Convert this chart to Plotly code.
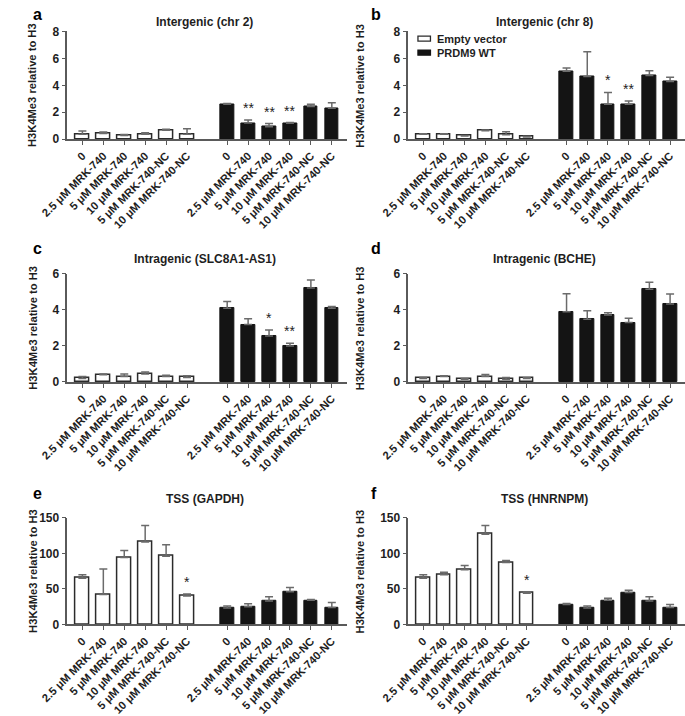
import plotly.graph_objects as go

W, H = 685, 716

conditions = ["0", "2.5 μM MRK-740", "5 μM MRK-740", "10 μM MRK-740",
              "5 μM MRK-740-NC", "10 μM MRK-740-NC"]
series_names = ["Empty vector", "PRDM9 WT"]

# ---- panel a: Intergenic (chr 2)
a_empty = [0.36, 0.42, 0.28, 0.36, 0.66, 0.36]
a_empty_err = [0.24, 0.12, 0.06, 0.12, 0.07, 0.41]
a_prdm9 = [2.6, 1.2, 0.92, 1.18, 2.42, 2.3]
a_prdm9_err = [0.05, 0.22, 0.24, 0.05, 0.17, 0.4]
a_sig_empty = ["", "", "", "", "", ""]
a_sig_prdm9 = ["", "**", "**", "**", "", ""]

# ---- panel b: Intergenic (chr 8)
b_empty = [0.36, 0.36, 0.24, 0.62, 0.33, 0.17]
b_empty_err = [0.04, 0.04, 0.04, 0.06, 0.22, 0.05]
b_prdm9 = [5.04, 4.65, 2.6, 2.6, 4.73, 4.29]
b_prdm9_err = [0.24, 1.85, 0.87, 0.24, 0.36, 0.31]
b_sig_empty = ["", "", "", "", "", ""]
b_sig_prdm9 = ["", "", "*", "**", "", ""]

# ---- panel c: Intragenic (SLC8A1-AS1)
c_empty = [0.2, 0.4, 0.3, 0.45, 0.3, 0.25]
c_empty_err = [0.1, 0.05, 0.15, 0.1, 0.08, 0.1]
c_prdm9 = [4.09, 3.19, 2.56, 2.0, 5.22, 4.1]
c_prdm9_err = [0.38, 0.33, 0.33, 0.15, 0.45, 0.1]
c_sig_empty = ["", "", "", "", "", ""]
c_sig_prdm9 = ["", "", "*", "**", "", ""]

# ---- panel d: Intragenic (BCHE)
d_empty = [0.2, 0.3, 0.15, 0.3, 0.15, 0.2]
d_empty_err = [0.05, 0.05, 0.05, 0.12, 0.1, 0.03]
d_prdm9 = [3.9, 3.48, 3.72, 3.3, 5.15, 4.33]
d_prdm9_err = [1.0, 0.48, 0.13, 0.24, 0.39, 0.56]
d_sig_empty = ["", "", "", "", "", ""]
d_sig_prdm9 = ["", "", "", "", "", ""]

# ---- panel e: TSS (GAPDH)
e_empty = [65, 42, 94, 116, 96, 40]
e_empty_err = [5, 36, 10, 23, 16, 3]
e_prdm9 = [23, 25, 33, 46, 34, 24]
e_prdm9_err = [3, 4, 6, 6, 1, 7]
e_sig_empty = ["", "", "", "", "", "*"]
e_sig_prdm9 = ["", "", "", "", "", ""]

# ---- panel f: TSS (HNRNPM)
f_empty = [65, 70, 77, 127, 87, 44]
f_empty_err = [5, 3.5, 6, 12, 3, 2]
f_prdm9 = [28, 23, 34, 45, 33, 24]
f_prdm9_err = [1.5, 3, 3, 3, 6, 4]
f_sig_empty = ["", "", "", "", "", "*"]
f_sig_prdm9 = ["", "", "", "", "", ""]

titles = ["Intergenic (chr 2)", "Intergenic (chr 8)", "Intragenic (SLC8A1-AS1)",
          "Intragenic (BCHE)", "TSS (GAPDH)", "TSS (HNRNPM)"]
letters = ["a", "b", "c", "d", "e", "f"]
y_ticks = [[0, 2, 4, 6, 8], [0, 2, 4, 6, 8], [0, 2, 4, 6], [0, 2, 4, 6],
           [0, 50, 100, 150], [0, 50, 100, 150]]
y_title = "H3K4Me3 relative to H3"

panels = [
    (a_empty, a_empty_err, a_prdm9, a_prdm9_err, a_sig_empty, a_sig_prdm9),
    (b_empty, b_empty_err, b_prdm9, b_prdm9_err, b_sig_empty, b_sig_prdm9),
    (c_empty, c_empty_err, c_prdm9, c_prdm9_err, c_sig_empty, c_sig_prdm9),
    (d_empty, d_empty_err, d_prdm9, d_prdm9_err, d_sig_empty, d_sig_prdm9),
    (e_empty, e_empty_err, e_prdm9, e_prdm9_err, e_sig_empty, e_sig_prdm9),
    (f_empty, f_empty_err, f_prdm9, f_prdm9_err, f_sig_empty, f_sig_prdm9),
]

# ---------------- layout helpers (pixel -> paper)
def px(x):
    return x / W

def py(y):
    return 1 - y / H

FONT = "Liberation Sans, Arial, Helvetica, sans-serif"
TXT = "#1e1e1e"
AXC = "#5a5a5a"
EMPTY_FILL, EMPTY_LINE = "white", "#2b2b2b"
WT_FILL = "#141414"

GROUP_OFFSET = 6.92
pos_empty = [i for i in range(len(conditions))]
pos_prdm9 = [i + GROUP_OFFSET for i in range(len(conditions))]
XRANGE = [-0.72, 5 + GROUP_OFFSET + 0.72]

col_x = [(42, 333), (397, 685)]
row_y = [(25, 135), (272.7, 383), (521.7, 630.7)]
title_y = [15, 257, 503]
letter_y = [8, 247, 497]
title_cx = [185, 539]
letter_x = [4, 356]
ytitle_x = [6, 347]

fig = go.Figure()
annotations = []
shapes = []
layout = {}

for i, (emp, emp_err, prd, prd_err, sig_e, sig_p) in enumerate(panels):
    r, c = divmod(i, 2)
    sfx = "" if i == 0 else str(i + 1)
    xa, ya = "x" + sfx, "y" + sfx
    fig.add_trace(go.Bar(
        x=pos_empty, y=emp, width=0.66, name=series_names[0],
        showlegend=False,
        marker=dict(color=EMPTY_FILL, line=dict(color=EMPTY_LINE, width=1.5)),
        error_y=dict(type="data", symmetric=False, array=emp_err,
                     arrayminus=[0] * len(emp), color="#6b6b6b",
                     thickness=1.5, width=4),
        xaxis=xa, yaxis=ya))
    fig.add_trace(go.Bar(
        x=pos_prdm9, y=prd, width=0.66, name=series_names[1],
        showlegend=False,
        marker=dict(color=WT_FILL, line=dict(color=WT_FILL, width=1)),
        error_y=dict(type="data", symmetric=False, array=prd_err,
                     arrayminus=[0] * len(prd), color="#6b6b6b",
                     thickness=1.5, width=4),
        xaxis=xa, yaxis=ya))
    for xs, vals, errs, sigs in ((pos_empty, emp, emp_err, sig_e),
                                 (pos_prdm9, prd, prd_err, sig_p)):
        for xv, v, e, s in zip(xs, vals, errs, sigs):
            if s:
                annotations.append(dict(
                    x=xv, y=v + e, xref=xa, yref=ya, text=s, showarrow=False,
                    yanchor="bottom", yshift=2,
                    font=dict(family=FONT, size=14, color="#222222")))
    x0, x1 = col_x[c]
    y0, y1 = row_y[r]
    layout["xaxis" + sfx] = dict(
        domain=[px(x0), px(x1)], anchor=ya, range=XRANGE,
        tickmode="array", tickvals=pos_empty + pos_prdm9,
        ticktext=conditions + conditions, tickangle=-45,
        showline=True, linecolor=AXC, linewidth=1.5,
        ticks="outside", ticklen=4, tickwidth=1.2, tickcolor=AXC,
        showgrid=False, zeroline=False,
        tickfont=dict(family=FONT, size=11.2, color=TXT, weight="bold"))
    layout["yaxis" + sfx] = dict(
        domain=[py(y1), py(y0)], anchor=xa, range=[0, y_ticks[i][-1]],
        tickmode="array", tickvals=y_ticks[i],
        showline=True, linecolor=AXC, linewidth=1.5,
        ticks="outside", ticklen=4, tickwidth=1.2, tickcolor=AXC,
        showgrid=False, zeroline=False,
        tickfont=dict(family=FONT, size=12, color=TXT, weight="bold"))
    annotations.append(dict(
        x=px(title_cx[c]), y=py(title_y[r]), xref="paper", yref="paper",
        text=titles[i], showarrow=False, xanchor="center", yanchor="middle",
        font=dict(family=FONT, size=12, color=TXT, weight="bold")))
    annotations.append(dict(
        x=px(letter_x[c]), y=py(letter_y[r]), xref="paper", yref="paper",
        text=letters[i], showarrow=False, xanchor="left", yanchor="middle",
        font=dict(family=FONT, size=16, color="#000", weight="bold")))
    annotations.append(dict(
        x=px(ytitle_x[c]), y=py((y0 + y1) / 2), xref="paper", yref="paper",
        text=y_title, showarrow=False, textangle=-90,
        xanchor="center", yanchor="middle",
        font=dict(family=FONT, size=11.2, color=TXT, weight="bold")))

# legend (drawn in panel b's corner)
legend_rows = [(series_names[0], EMPTY_FILL, EMPTY_LINE, 32.3),
               (series_names[1], WT_FILL, WT_FILL, 46.7)]
for name, fill, line, yc in legend_rows:
    shapes.append(dict(type="rect", xref="paper", yref="paper",
                       x0=px(407), x1=px(420), y0=py(yc + 2.5), y1=py(yc - 2.5),
                       fillcolor=fill, line=dict(color=line, width=1.3)))
    annotations.append(dict(
        x=px(425), y=py(yc), xref="paper", yref="paper", text=name,
        showarrow=False, xanchor="left", yanchor="middle",
        font=dict(family=FONT, size=11, color=TXT, weight="bold")))

fig.update_layout(
    width=W, height=H, margin=dict(l=0, r=0, t=0, b=0),
    plot_bgcolor="white", paper_bgcolor="white",
    bargap=0, showlegend=False,
    annotations=annotations, shapes=shapes,
    **layout)

fig.write_html("out.html", config={"displayModeBar": False},
               post_script="document.body.style.margin='0';")
